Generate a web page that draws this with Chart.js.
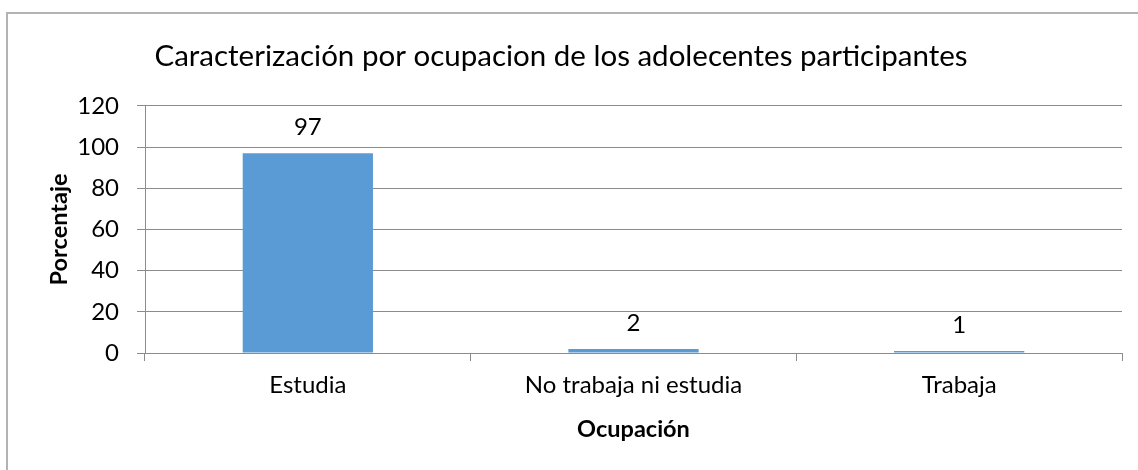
<!DOCTYPE html>
<html>
<head>
<meta charset="utf-8">
<script src="https://cdn.jsdelivr.net/npm/chart.js@4.4.1/dist/chart.umd.min.js"></script>
<style>
  html, body { margin: 0; padding: 0; background: #fff; overflow: hidden; }
  #wrap { position: relative; width: 1138px; height: 470px; }
  #marco { position: absolute; left: 6px; top: 12px; width: 1200px; height: 600px; border: 2px solid #b3b3b3; box-sizing: border-box; pointer-events: none; }
  canvas { position: absolute; left: 0; top: 0; }
</style>
</head>
<body>
<div id="wrap">
  <canvas id="grafico" width="1138" height="470"></canvas>
  <div id="marco"></div>
</div>
<script>
// Datos del grafico
const categorias = ['Estudia', 'No trabaja ni estudia', 'Trabaja'];
const porcentajes = [97, 2, 1];
const ticksY = [0, 20, 40, 60, 80, 100, 120];

const fuente = 'Lato, "Open Sans", sans-serif';
const gris = '#8c8c8c';

// Etiquetas de valor encima de cada barra
const etiquetasBarras = {
    id: 'etiquetasBarras',
    afterDatasetsDraw(chart) {
        const ctx = chart.ctx;
        const meta = chart.getDatasetMeta(0);
        ctx.save();
        ctx.font = '24px ' + fuente;
        ctx.fillStyle = '#000';
        ctx.textAlign = 'center';
        ctx.textBaseline = 'middle';
        meta.data.forEach((bar, i) => {
            ctx.fillText(String(porcentajes[i]), bar.x, bar.y - 26);
        });
        ctx.restore();
    }
};

const ctx = document.getElementById('grafico').getContext('2d');
const chart = new Chart(ctx, {
    type: 'bar',
    data: {
        labels: categorias,
        datasets: [{
            data: porcentajes,
            backgroundColor: '#5b9bd5',
            borderWidth: 0,
            barPercentage: 0.4,
            categoryPercentage: 1
        }]
    },
    options: {
        responsive: false,
        animation: false,
        layout: { padding: { left: 0, right: 16, top: 0, bottom: 0 } },
        plugins: {
            legend: { display: false },
            tooltip: { enabled: false },
            title: {
                display: true,
                text: 'Caracterización por ocupacion de los adolecentes participantes',
                color: '#000',
                font: { family: fuente, size: 29.5, weight: 'normal' },
                padding: { top: 39, bottom: 31.5 }
            }
        },
        scales: {
            x: {
                grid: { display: true, drawOnChartArea: false, drawTicks: true, tickLength: 8, color: gris, offset: true },
                border: { display: true, color: gris, width: 1 },
                ticks: { color: '#000', font: { family: fuente, size: 24 }, padding: 10, maxRotation: 0 },
                title: {
                    display: true,
                    text: 'Ocupación',
                    color: '#000',
                    font: { family: fuente, size: 23.5, weight: 'bold' },
                    padding: { top: 0, bottom: 26 }
                },
                afterFit(scale) { scale.height = 117; }
            },
            y: {
                min: 0,
                max: 120,
                afterBuildTicks(scale) { scale.ticks = ticksY.map(v => ({ value: v })); },
                grid: { color: gris, drawTicks: true, tickLength: 8 },
                border: { display: true, color: gris, width: 1 },
                ticks: { color: '#000', font: { family: fuente, size: 24 }, padding: 18 },
                title: {
                    display: true,
                    text: 'Porcentaje',
                    color: '#000',
                    font: { family: fuente, size: 23.5, weight: 'bold' },
                    padding: { top: 45, bottom: 0 }
                },
                afterFit(scale) { scale.width = 145; }
            }
        }
    },
    plugins: [etiquetasBarras]
});
</script>
</body>
</html>
